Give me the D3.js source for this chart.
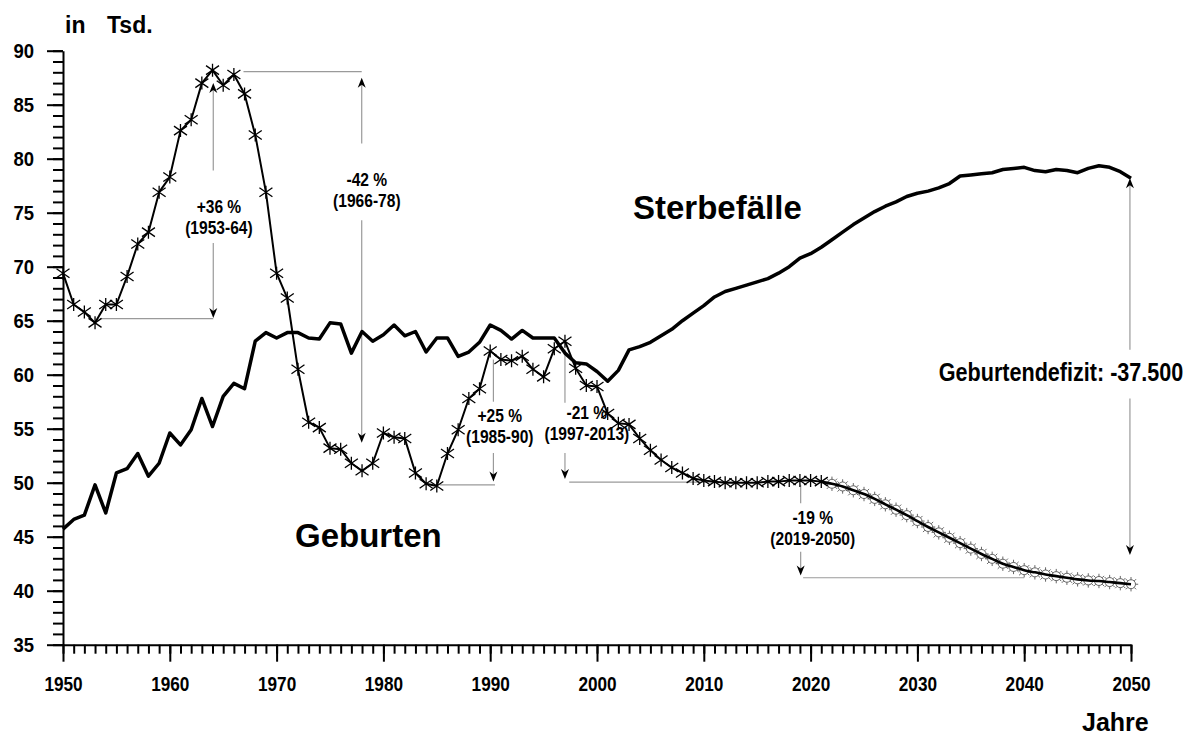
<!DOCTYPE html>
<html>
<head>
<meta charset="utf-8">
<script src="https://cdn.jsdelivr.net/npm/d3@7"></script>
<style>
    body { margin: 0; background: #fff; }
    svg { display: block; font-family: 'Liberation Sans', Arial, sans-serif; font-weight: bold; }
</style>
</head>
<body>
<div id="chart"></div>
<script>
// Geburten 1950-2021 (in Tsd.)
const birthYears = d3.range(1950, 2022)
const births = [
    69.4, 66.5, 65.8, 64.8, 66.5, 66.5, 69.1, 72.1, 73.2, 76.9,
    78.3, 82.6, 83.6, 87.0, 88.2, 86.8, 87.8, 86.0, 82.2, 76.9,
    69.4, 67.1, 60.5, 55.6, 55.1, 53.2, 53.1, 51.8, 51.1, 51.8,
    54.6, 54.2, 54.1, 50.9, 49.9, 49.7, 52.7, 54.9, 57.8, 58.7,
    62.2, 61.4, 61.3, 61.7, 60.5, 59.8, 62.4, 63.1, 60.6, 59.0,
    58.9, 56.4, 55.5, 55.4, 54.1, 53.0, 52.1, 51.4, 50.9, 50.4,
    50.2, 50.1, 50.0, 50.0, 50.0, 50.0, 50.1, 50.1, 50.2, 50.2,
    50.2, 50.1,
]

// Geburten Vorausberechnung 2022-2050
const projectionYears = d3.range(2022, 2051)
const birthsProjection = [
    49.9, 49.65, 49.3, 48.95, 48.5, 48.0, 47.5, 47.0, 46.45, 45.9,
    45.4, 44.9, 44.4, 43.9, 43.4, 42.95, 42.5, 42.2, 41.9, 41.7,
    41.5, 41.35, 41.2, 41.05, 40.95, 40.9, 40.8, 40.7, 40.6,
]

// Sterbefälle 1950-2050
const deathYears = d3.range(1950, 2051)
const deaths = [
    45.7, 46.6, 47.0, 49.8, 47.2, 50.9, 51.3, 52.7, 50.6, 51.8,
    54.6, 53.5, 54.9, 57.8, 55.2, 58.0, 59.2, 58.7, 63.1, 63.9,
    63.4, 63.9, 63.9, 63.4, 63.3, 64.8, 64.7, 62.0, 64.0, 63.1,
    63.7, 64.6, 63.6, 64.0, 62.1, 63.4, 63.4, 61.7, 62.1, 63.0,
    64.6, 64.1, 63.3, 64.1, 63.4, 63.4, 63.4, 62.0, 61.1, 61.0,
    60.3, 59.4, 60.4, 62.3, 62.6, 63.0, 63.6, 64.2, 65.0, 65.7,
    66.4, 67.2, 67.7, 68.0, 68.3, 68.6, 68.9, 69.4, 70.0, 70.8,
    71.2, 71.8, 72.5, 73.2, 73.9, 74.5, 75.1, 75.6, 76.0, 76.5,
    76.8, 77.0, 77.3, 77.7, 78.4, 78.5, 78.6, 78.7, 79.0, 79.1,
    79.2, 78.9, 78.8, 79.0, 78.9, 78.7, 79.1, 79.35, 79.2, 78.8,
    78.2,
]

const yMajorTicks = [35, 40, 45, 50, 55, 60, 65, 70, 75, 80, 85, 90]
const xMajorTicks = [1950, 1960, 1970, 1980, 1990, 2000, 2010, 2020, 2030, 2040, 2050]

// Veraenderungs-Pfeile: Jahr/Wert-Angaben der Pfeile
const changeNotes = [
    { lines: ['+36 %', '(1953-64)'], year: 1964.07, textYear: 1964.6, top: 87.0, gapTop: 78.9, textMid: 74.55, gapBottom: 72.2, bottom: 65.25, headTop: true, base: [1953.5, 1964.07, 65.2] },
    { lines: ['-42 %', '(1966-78)'], year: 1977.97, textYear: 1978.45, top: 87.5, gapTop: 81.4, textMid: 77.1, gapBottom: 74.3, bottom: 53.7, headTop: true, base: [1966.9, 1977.97, 88.06] },
    { lines: ['+25 %', '(1985-90)'], year: 1990.3, textYear: 1990.9, top: 61.4, gapTop: 57.5, textMid: 55.2, gapBottom: 52.75, bottom: 50.1, headTop: false, base: [1985.3, 1990.45, 49.8] },
    { lines: ['-21 %', '(1997-2013)'], year: 1997.0, textYear: 1999.05, top: 62.3, gapTop: 57.4, textMid: 55.5, gapBottom: 52.75, bottom: 50.35, headTop: false, base: [1997.4, 2013, 50.05] },
    { lines: ['-19 %', '(2019-2050)'], year: 2019.07, textYear: 2020.2, top: 49.8, gapTop: 48.1, textMid: 45.8, gapBottom: 43.6, bottom: 41.4, headTop: false, base: [2019.3, 2040, 41.2] },
]
const deficitNote = { label: 'Geburtendefizit: -37.500', year: 2049.9, textYear: 2043.45, top: 78.2, gapTop: 62.3, textMid: 60.25, gapBottom: 57.8, bottom: 43.3 }

const width = 1196
const height = 735

const x = d3.scaleLinear().domain([1950, 2050]).range([63, 1131])
const y = d3.scaleLinear().domain([35, 90]).range([644.7, 50.7])

const svg = d3.select('#chart').append('svg')
    .attr('width', width)
    .attr('height', height)

svg.append('rect').attr('width', width).attr('height', height).attr('fill', '#fff')

// schmale Schrift: horizontal stauchen, Ankerpunkt bleibt
function _narrow(selection, sx) {
    selection.each(function () {
        const t = d3.select(this)
        const tx = +(t.attr('x') || 0)
        const ty = +(t.attr('y') || 0)
        t.attr('x', 0).attr('y', 0)
            .attr('transform', `translate(${tx},${ty}) scale(${sx},1)`)
    })
}

function _styleAxis(g, keepDomain) {
    g.selectAll('line').attr('stroke', '#000').attr('stroke-width', 2)
    if (keepDomain) {
        g.select('.domain').attr('stroke', '#000').attr('stroke-width', 2)
    } else {
        g.select('.domain').remove()
    }
    g.selectAll('text')
        .attr('fill', '#000')
        .attr('font-family', null)
        .attr('font-size', null)
}

// y axis
svg.append('g')
    .attr('transform', `translate(${x(1950)},0)`)
    .call(d3.axisLeft(y).tickValues(d3.range(35, 91, 1)).tickSize(10).tickFormat(''))
    .call(g => _styleAxis(g, false))

svg.append('g')
    .attr('transform', `translate(${x(1950)},0)`)
    .call(d3.axisLeft(y).tickValues(yMajorTicks).tickSize(16).tickSizeOuter(0).tickPadding(13))
    .call(g => _styleAxis(g, true))
    .selectAll('text')
        .style('font-size', '21px')
        .call(_narrow, 0.88)

// x axis
svg.append('g')
    .attr('transform', `translate(0,${y(35)})`)
    .call(d3.axisBottom(x).tickValues(d3.range(1950, 2051, 1)).tickSize(9).tickFormat(''))
    .call(g => _styleAxis(g, false))

svg.append('g')
    .attr('transform', `translate(0,${y(35)})`)
    .call(d3.axisBottom(x).tickValues(xMajorTicks).tickSize(17).tickSizeOuter(0).tickPadding(15).tickFormat(d3.format('d')))
    .call(g => _styleAxis(g, true))
    .selectAll('text')
        .style('font-size', '20px')
        .call(_narrow, 0.86)

// Achsentitel
svg.append('text').attr('x', 65).attr('y', 33).style('font-size', '23px').text('in')
svg.append('text').attr('x', 107).attr('y', 33).style('font-size', '23px').text('Tsd.')
svg.append('text').attr('x', 1082).attr('y', 731).style('font-size', '25px').text('Jahre')

// Reihenbeschriftung
svg.append('text').attr('x', 633).attr('y', 219).style('font-size', '33px').text('Sterbefälle')
svg.append('text').attr('x', 295).attr('y', 547).style('font-size', '33px').text('Geburten')

// Pfeile
const notes = svg.append('g').attr('class', 'notes')

function _arrowHead(g, px, py, dir) {
    // dir -1 = nach oben, 1 = nach unten, Spitze bei (px, py)
    g.append('path')
        .attr('d', `M${px},${py} L${px - 4},${py - dir * 10} L${px},${py - dir * 7} L${px + 4},${py - dir * 10} Z`)
        .attr('fill', '#000')
}

function _greyLine(g, x1, y1, x2, y2) {
    g.append('line')
        .attr('x1', x1).attr('y1', y1).attr('x2', x2).attr('y2', y2)
        .attr('stroke', '#9a9a9a')
        .attr('stroke-width', 1.2)
}

changeNotes.forEach(note => {
    const g = notes.append('g')
    const px = x(note.year)
    _greyLine(g, x(note.base[0]), y(note.base[2]), x(note.base[1]), y(note.base[2]))
    _greyLine(g, px, y(note.top) + (note.headTop ? 6 : 0), px, y(note.gapTop))
    _greyLine(g, px, y(note.gapBottom), px, y(note.bottom) - 6)
    if (note.headTop) _arrowHead(g, px, y(note.top), -1)
    _arrowHead(g, px, y(note.bottom), 1)
    const mid = y(note.textMid)
    g.selectAll('text')
        .data(note.lines)
        .enter()
            .append('text')
                .attr('x', x(note.textYear))
                .attr('y', (d, i) => mid + (i === 0 ? -10.5 : 10.5) + 6.3)
                .attr('text-anchor', 'middle')
                .style('font-size', '19px')
                .text(d => d)
                .call(_narrow, 0.82)
})

{
    const g = notes.append('g')
    const px = x(deficitNote.year)
    _greyLine(g, px, y(deficitNote.top) + 6, px, y(deficitNote.gapTop))
    _greyLine(g, px, y(deficitNote.gapBottom), px, y(deficitNote.bottom) - 6)
    _arrowHead(g, px, y(deficitNote.top), -1)
    _arrowHead(g, px, y(deficitNote.bottom), 1)
    g.append('text')
        .attr('x', x(deficitNote.textYear))
        .attr('y', y(deficitNote.textMid) + 9)
        .attr('text-anchor', 'middle')
        .style('font-size', '26px')
        .text(deficitNote.label)
        .call(_narrow, 0.83)
}

// Reihen
const deathData = deaths.map((v, i) => ({ year: deathYears[i], value: v }))
const birthData = births.map((v, i) => ({ year: birthYears[i], value: v }))
const projData = [birthData[birthData.length - 1]].concat(
    birthsProjection.map((v, i) => ({ year: projectionYears[i], value: v })))

const line = d3.line().x(d => x(d.year)).y(d => y(d.value))

svg.append('path')
    .datum(deathData)
    .attr('d', line)
    .attr('fill', 'none')
    .attr('stroke', '#000')
    .attr('stroke-width', 3.5)
    .attr('stroke-linejoin', 'round')

// Vorausberechnung: Sonnen-Marker unter der Linie
const sun = d3.range(8).map(k => {
    const a = k * Math.PI / 4
    return `M${4.5 * Math.cos(a)},${4.5 * Math.sin(a)}L${7.2 * Math.cos(a)},${7.2 * Math.sin(a)}`
}).join('')

const projMarks = svg.append('g').selectAll('g')
    .data(projData.slice(1))
    .enter()
        .append('g')
            .attr('transform', d => `translate(${x(d.year)},${y(d.value)})`)
projMarks.append('circle')
    .attr('r', 4.5)
    .attr('fill', '#fff')
    .attr('stroke', '#555')
    .attr('stroke-width', 0.9)
projMarks.append('path')
    .attr('d', sun)
    .attr('stroke', '#555')
    .attr('stroke-width', 0.9)

svg.append('path')
    .datum(projData)
    .attr('d', line.curve(d3.curveMonotoneX))
    .attr('fill', 'none')
    .attr('stroke', '#000')
    .attr('stroke-width', 2.6)

svg.append('path')
    .datum(birthData)
    .attr('d', d3.line().x(d => x(d.year)).y(d => y(d.value)))
    .attr('fill', 'none')
    .attr('stroke', '#000')
    .attr('stroke-width', 2)
    .attr('stroke-linejoin', 'round')

// Sternchen-Marker
const star = 'M-6.5,-4.5L6.5,4.5M-6.5,4.5L6.5,-4.5M0,-6.5L0,6.5'
svg.append('g').selectAll('path')
    .data(birthData)
    .enter()
        .append('path')
            .attr('transform', d => `translate(${x(d.year)},${y(d.value)})`)
            .attr('d', star)
            .attr('stroke', '#000')
            .attr('stroke-width', 1.3)
            .attr('fill', 'none')
</script>
</body>
</html>
